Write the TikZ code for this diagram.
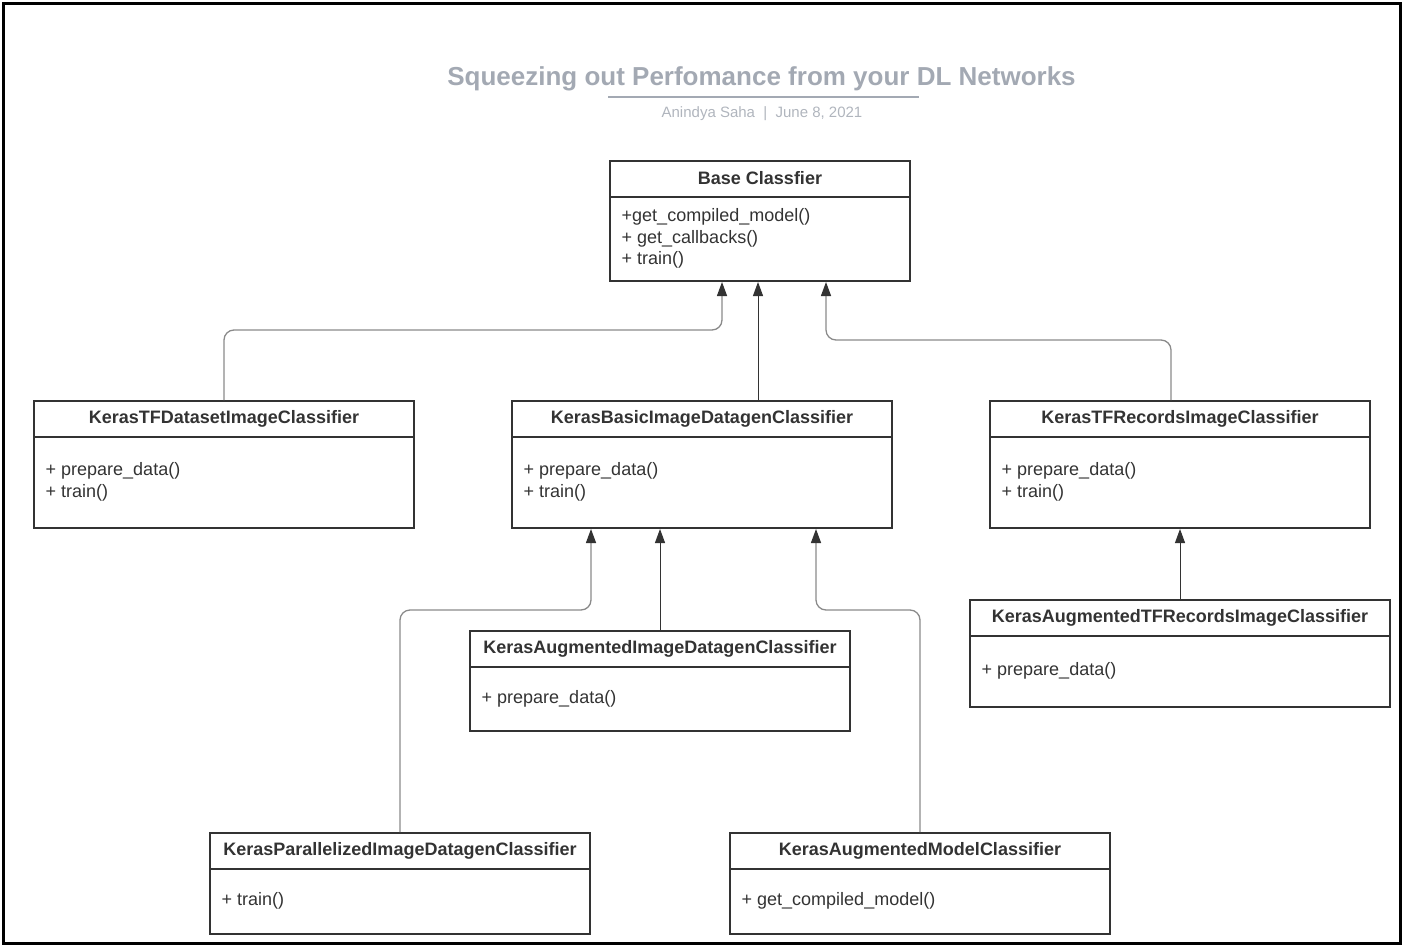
\documentclass[tikz,border=0pt]{standalone}
\usepackage{fontspec}
\setmainfont{Liberation Sans}
\usetikzlibrary{arrows.meta, calc, positioning}
\definecolor{ink}{HTML}{333333}
\definecolor{wire}{HTML}{8A8A8A}
\definecolor{titlegray}{HTML}{A3A9B3}
\definecolor{subgray}{HTML}{B0B5BD}
\tikzset{
    >={Triangle[length=14pt, width=10pt, color=ink]},
    classbox/.style={draw=ink, line width=2pt, inner sep=0pt, anchor=north west},
    classline/.style={ink, line width=2pt},
    classname/.style={text=ink, inner sep=0pt, font=\fontsize{18}{21.5}\selectfont\bfseries},
    methods/.style={text=ink, inner sep=0pt, anchor=west, align=left, font=\fontsize{18}{21.5}\selectfont},
    inherit/.style={->, ink, line width=1pt},
    bent/.style={inherit, draw=wire, line width=1.3pt, rounded corners=10pt},
}

\begin{document}
\begin{tikzpicture}[x=1pt, y=-1pt]
    \useasboundingbox (0,0) rectangle (1404,947);
    \draw[line width=3pt] (3.5,3.5) rectangle (1400.5,943.5);
    % heading
    \node[text=titlegray, font=\fontsize{26}{30}\selectfont\bfseries] (title) at (761.5,79) {Squeezing out Perfomance from your DL Networks};
    \draw[titlegray, line width=2pt] (608,97) -- (919,97);
    \node[text=subgray, font=\fontsize{15}{18}\selectfont] (byline) at (762,114) {Anindya Saha\ \ |\ \ June 8, 2021};
    % classes
    \foreach \n/\x/\y/\w/\h/\t/\m [evaluate={\yb=\y+37}, evaluate={\ym=\y+18.5+\h/2}] in {
        base/609/160/300/120/{Base Classfier}/{+get\_compiled\_model()\\+ get\_callbacks()\\+ train()},
        tfdata/33/400/380/127/{KerasTFDatasetImageClassifier}/{+ prepare\_data()\\+ train()},
        basic/511/400/380/127/{KerasBasicImageDatagenClassifier}/{+ prepare\_data()\\+ train()},
        tfrec/989/400/380/127/{KerasTFRecordsImageClassifier}/{+ prepare\_data()\\+ train()},
        augtfrec/969/599/420/107/{KerasAugmentedTFRecordsImageClassifier}/{+ prepare\_data()},
        augimg/469/630/380/100/{KerasAugmentedImageDatagenClassifier}/{+ prepare\_data()},
        par/209/832/380/101/{KerasParallelizedImageDatagenClassifier}/{+ train()},
        augmod/729/832/380/101/{KerasAugmentedModelClassifier}/{+ get\_compiled\_model()}} {
        \node[classbox, minimum width=\w pt, minimum height=\h pt] (\n) at (\x,\y) {};
        \draw[classline] (\x,\yb) -- ++(\w,0);
        \node[classname] (\n-name) at ($(\n.north)+(0,18.5)$) {\t};
        \node[methods] (\n-ops) at (\x+12.5,\ym) {\m};
    };
    % inheritance
    \draw[bent] (tfdata.north) -- ++(0,-70) -| ($(base.south)+(-38,0)$);
    \draw[inherit] ($(basic.north -| base.south)+(-2,0)$) -- ($(base.south)+(-2,0)$);
    \draw[bent] ($(tfrec.north)+(-9,0)$) -- ++(0,-60) -| ($(base.south)+(66,0)$);
    \draw[inherit] (augtfrec.north) -- (augtfrec.north |- tfrec.south);
    \draw[bent] (par.north) -- ++(0,-222) -| ($(basic.south)+(-111,0)$);
    \draw[inherit] (augimg.north) -- (augimg.north |- basic.south);
    \draw[bent] (augmod.north) -- ++(0,-222) -| ($(basic.south)+(114,0)$);
\end{tikzpicture}
\end{document}
